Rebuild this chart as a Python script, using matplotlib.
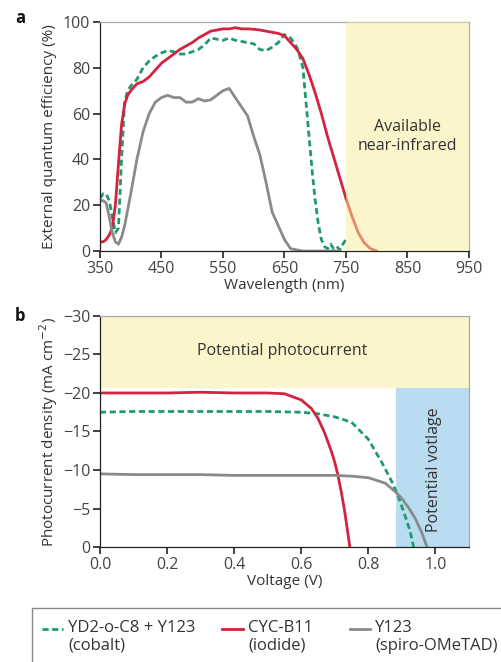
import matplotlib
matplotlib.use("Agg")
import matplotlib.pyplot as plt
from matplotlib.patches import Rectangle
from matplotlib.lines import Line2D

plt.rcParams['font.family'] = ['Open Sans', 'DejaVu Sans']
plt.rcParams['font.size'] = 11
plt.rcParams['text.color'] = '#333333'
plt.rcParams['axes.labelcolor'] = '#333333'
plt.rcParams['xtick.color'] = '#222222'
plt.rcParams['ytick.color'] = '#222222'
plt.rcParams['xtick.labelcolor'] = '#444444'
plt.rcParams['ytick.labelcolor'] = '#444444'

# ---------------- data: panel a (EQE) ----------------
wl_green = [350, 355, 360, 365, 370, 375, 380, 385, 390, 395, 400, 410, 420, 430, 440, 450,
            460, 470, 480, 490, 500, 510, 520, 530, 540, 550, 560, 570, 580, 590, 600, 610,
            620, 630, 640, 650, 660, 670, 675, 680, 685, 690, 695, 700, 705, 710, 715, 720,
            725, 730, 735, 740, 745, 750]
eqe_green = [23, 25, 25, 22, 15, 8, 10, 40, 65, 70, 72, 75, 80, 83, 85, 86.5,
             87.5, 87, 86, 86, 87, 88, 90, 93, 92.5, 92, 93, 92, 91.5, 91, 90.5, 88,
             87.5, 89, 91, 94.5, 93, 89, 85, 80, 65, 50, 35, 22, 12, 5, 2, 1,
             3, 1, 2, 0.5, 3, 5]

wl_red = [350, 355, 360, 365, 370, 375, 380, 385, 390, 395, 400, 410, 420, 430, 440, 450,
          460, 470, 480, 490, 500, 510, 520, 530, 540, 550, 560, 570, 580, 590, 600, 610,
          620, 630, 640, 650, 660, 670, 680, 690, 700, 710, 720, 730, 740, 750, 760, 770,
          780, 790, 800]
eqe_red = [4, 4, 5, 7, 10, 20, 38, 55, 64, 68, 70, 73, 74, 76, 79, 82,
           84, 86, 88, 89.5, 91, 93, 94.5, 96, 96.5, 97, 97, 97.5, 97, 97, 96.8, 96.5,
           96, 95.5, 95, 94, 91, 88, 84, 77, 69, 60, 50, 41, 32, 23, 15, 8,
           3.5, 1, 0]

wl_gray = [350, 355, 360, 365, 370, 375, 380, 385, 390, 400, 410, 420, 430, 440, 450, 460,
           470, 480, 490, 500, 510, 520, 530, 540, 550, 560, 570, 580, 590, 600, 610, 620,
           630, 640, 650, 660, 670, 680, 700, 720, 740]
eqe_gray = [22, 22, 21, 15, 8, 4, 3, 6, 11, 25, 40, 52, 60, 65, 67, 68,
            67, 67, 65, 65, 66.5, 65.5, 66, 68, 70, 71, 67, 63, 59, 50, 42, 30,
            17, 11, 5, 1, 0.5, 0, 0, 0, 0]

# ---------------- data: panel b (J-V) ----------------
v_green = [0.0, 0.1, 0.2, 0.3, 0.4, 0.5, 0.6, 0.65, 0.7, 0.75, 0.8, 0.84, 0.87, 0.89, 0.91,
           0.925, 0.935]
j_green = [-17.5, -17.6, -17.6, -17.6, -17.6, -17.6, -17.5, -17.3, -16.9, -16.2, -14.0, -11.0,
           -8.5, -6.5, -4.0, -2.0, 0.0]

v_red = [0.0, 0.1, 0.2, 0.3, 0.4, 0.5, 0.55, 0.6, 0.63, 0.65, 0.67, 0.69, 0.70, 0.71, 0.72,
         0.73, 0.74, 0.745]
j_red = [-20.0, -20.0, -20.0, -20.1, -20.0, -20.0, -19.9, -19.1, -18.0, -16.7, -14.8, -12.4,
         -11.0, -9.2, -7.0, -4.5, -1.5, 0.0]

v_gray = [0.0, 0.1, 0.2, 0.3, 0.4, 0.5, 0.6, 0.7, 0.75, 0.8, 0.85, 0.88, 0.9, 0.92, 0.94,
          0.96, 0.975]
j_gray = [-9.5, -9.4, -9.4, -9.4, -9.3, -9.3, -9.3, -9.3, -9.2, -9.0, -8.3, -7.2, -6.3, -5.1,
          -3.7, -1.8, 0.0]

labels = ['YD2-o-C8 + Y123\n(cobalt)', 'CYC-B11\n(iodide)', 'Y123\n(spiro-OMeTAD)']
xticks_a = [350, 450, 550, 650, 750, 850, 950]
yticks_a = [0, 20, 40, 60, 80, 100]
xticks_b = [0.0, 0.2, 0.4, 0.6, 0.8, 1.0]
yticks_b = [0, -5, -10, -15, -20, -25, -30]

GREEN = '#1f9a6c'
RED = '#d2233f'
GRAY = '#8a8a8a'
YELLOW = '#faeb96'
BLUE = '#b9dcf1'
DASH = (0, (2.2, 1.3))

fig = plt.figure(figsize=(5.01, 6.62), dpi=100)

def style_axes(ax):
    for s in ['top', 'right']:
        ax.spines[s].set_color('#aaaaaa')
        ax.spines[s].set_linewidth(0.9)
    for s in ['left', 'bottom']:
        ax.spines[s].set_color('#222222')
        ax.spines[s].set_linewidth(0.9)
    ax.tick_params(direction='out', length=5, width=1.2, labelsize=11.5, pad=2)

# Panel a
ax1 = fig.add_axes([0.1996, 0.6208, 0.7364, 0.346])
ax1.plot(wl_green, eqe_green, color=GREEN, lw=2, ls=DASH)
ax1.plot(wl_red, eqe_red, color=RED, lw=2)
ax1.plot(wl_gray, eqe_gray, color=GRAY, lw=2)
ax1.axvspan(750, 950, color=YELLOW, alpha=0.5, lw=0, zorder=3)
ax1.text(850, 50, 'Available\nnear-infrared', ha='center', va='center', fontsize=11.5,
         linespacing=1.3, zorder=4)
ax1.set_xlim(350, 950)
ax1.set_ylim(0, 100)
ax1.set_xticks(xticks_a)
ax1.set_yticks(yticks_a)
ax1.set_xlabel('Wavelength (nm)', labelpad=1)
ax1.set_ylabel('External quantum efficiency (%)', labelpad=4)
style_axes(ax1)

# Panel b
ax2 = fig.add_axes([0.1996, 0.1737, 0.7364, 0.349])
ax2.axhspan(-30, -20.6, color=YELLOW, alpha=0.5, lw=0, zorder=0)
ax2.axvspan(0.883, 1.1, ymin=0, ymax=20.6 / 30, color=BLUE, lw=0, zorder=0)
ax2.plot(v_green, j_green, color=GREEN, lw=2, ls=DASH)
ax2.plot(v_red, j_red, color=RED, lw=2)
ax2.plot(v_gray, j_gray, color=GRAY, lw=2)
ax2.text(0.542, -25.4, 'Potential photocurrent', ha='center', va='center', fontsize=11.5)
ax2.text(0.995, -10, 'Potential votlage', ha='center', va='center', fontsize=11.5, rotation=90)
ax2.set_xlim(0, 1.1)
ax2.set_ylim(0, -30)
ax2.set_xticks(xticks_b)
ax2.set_xticklabels(['0.0', '0.2', '0.4', '0.6', '0.8', '1.0'])
ax2.set_yticks(yticks_b)
ax2.set_yticklabels(['0', '\u22125', '\u221210', '\u221215', '\u221220', '\u221225', '\u221230'])
ax2.set_xlabel('Voltage (V)', labelpad=1)
ax2.set_ylabel('Photocurrent density (mA cm$^{-2}$)', labelpad=2)
style_axes(ax2)

fig.text(15 / 501, 1 - 18 / 662, 'a', fontsize=12, fontweight='bold', color='#111111',
         ha='left', va='center')
fig.text(15 / 501, 1 - 316 / 662, 'b', fontsize=12, fontweight='bold', color='#111111',
         ha='left', va='center')

# Legend box (manual, handles aligned with first label line)
fig.patches.append(Rectangle((32 / 501, -0.01), 1.0, (662 - 608) / 662 + 0.01,
                             transform=fig.transFigure, facecolor='white',
                             edgecolor='#888888', lw=1.0))
handle_x = [(42, 63), (222, 243), (350, 370)]
styles = [dict(color=GREEN, ls=DASH), dict(color=RED, ls='-'), dict(color=GRAY, ls='-')]
y_line = 1 - 629 / 662
for (x0, x1), st, lab in zip(handle_x, styles, labels):
    fig.lines.append(Line2D([x0 / 501, x1 / 501], [y_line, y_line], transform=fig.transFigure,
                            lw=2, **st))
    fig.text((x1 + 5) / 501, 1 - 620 / 662, lab, ha='left', va='top', fontsize=12,
             linespacing=1.15)

fig.savefig('out.png', dpi=100)
